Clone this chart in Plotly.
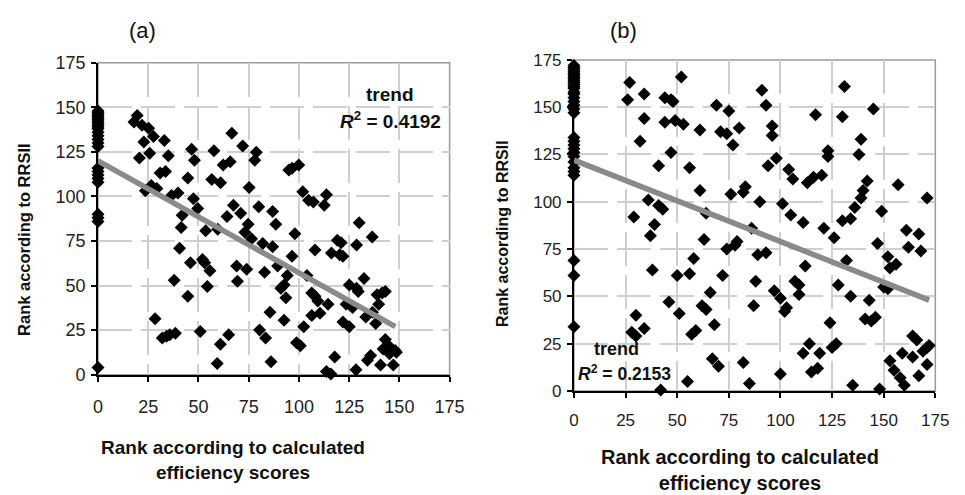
import plotly.graph_objects as go

# ---------------- Panel (a) data ----------------
a_col_y = [148, 147, 146, 145, 144, 143, 142, 141, 140, 139, 138, 136, 134, 132, 130, 128,
           116, 114, 112, 110, 108, 90, 88, 86, 4]
a_x = [19.5, 17.9, 21.9, 25.2, 22.8, 27.6, 33, 20.6, 25.7, 35, 30.9, 33.6, 23.6, 26.5, 29.3, 36.6,
       39.8, 41.9, 41.4, 46.6, 48, 44.7, 47.5, 49.6, 53.6, 57.7, 56.6, 61, 62.3, 65.8, 66.6, 64.2,
       67.4, 59.6, 72, 78.8, 78, 75.2, 71, 74.7, 73.1, 76.4, 80, 82, 86.9, 88.5, 86.9, 69, 69.4, 74,
       82.9, 85.6, 80.4, 83.4, 86.1, 95, 96.6, 99.9, 101.9, 104.8, 107.2, 112.6, 113.7, 98, 96.6,
       94.2, 92.6, 91, 89.4, 93.5, 92.6, 104, 98.8, 100.7, 102.4, 108, 106.4, 108, 109.4, 110.5,
       106.4, 114.5, 116.2, 119.1, 121, 120.3, 121.9, 130, 128.7, 136.5, 125.1, 128.7, 129.5, 132.4,
       123.5, 126.7, 121.9, 125.1, 133.3, 136.6, 138.9, 141.4, 143, 139.7, 138.2, 143, 144.4, 146,
       147.9, 141.9, 145.1, 148.5, 147, 140.6, 134.1, 135.7, 128.4, 117.8, 113.7, 115.9,
       28.4, 32, 34.1, 35.7, 38.5, 37.9, 40.6, 44.7, 46, 50.9, 52, 53.1, 54.4, 55.7, 59.3, 60.9, 65]
a_y = [145.4, 141.8, 140, 138.2, 130.6, 133.7, 131.4, 121.5, 124.2, 122.9, 113.1, 114, 103.2, 106.2,
       104.4, 100.5, 101.9, 89.4, 82.6, 126.5, 120.3, 110.4, 98.7, 93.3, 80.8, 125.6, 109.5, 107.7,
       117.6, 119.4, 135.5, 88.8, 95.1, 81.6, 128.3, 124.8, 120.3, 105, 90.6, 84.4, 79.9, 76.3, 94.2,
       73.6, 91.5, 84.4, 71.8, 61, 52.4, 59.2, 57.4, 35, 25.1, 20.6, 7.2, 114.9, 115.8, 117.6, 102.7,
       97.8, 96.9, 95.1, 100.9, 79, 66.4, 55.6, 50.3, 48.5, 61, 43.1, 30.5, 55.6, 17.9, 16.2, 26.9,
       70, 45.8, 44, 41.3, 34.5, 33.2, 39.5, 68.2, 75.4, 74, 67.3, 66.4, 85.3, 72.7, 77.2, 50.3, 48.5,
       46.7, 53.9, 39.5, 37.7, 29.6, 26.9, 32.3, 35, 44.9, 45.8, 46.7, 39.5, 28.7, 19.7, 16.5, 14.4,
       13.5, 14.4, 11.7, 12.6, 5.4, 5.4, 8.1, 10.8, 2.7, 9.9, 1.8, 0.4,
       31.4, 20.6, 21.5, 22.4, 23.3, 53, 70.9, 44, 62.8, 24.2, 64.6, 62.8, 49.4, 58.3, 6.3, 17, 22.4]
a_trend_x = [0, 148]
a_trend_y = [120, 27]
a_r2 = "0.4192"

# ---------------- Panel (b) data ----------------
b_col_y = [172, 171, 170, 169, 168, 167, 166, 165, 164, 163, 162, 161, 160, 158, 157, 155, 153, 151,
           149, 147, 134, 132, 130, 128, 126, 124, 121, 118, 116, 114, 69, 61, 34]
b_pts = [(27, 163), (26, 154), (34, 157), (34, 144), (32, 132), (52, 166), (44, 155), (47, 154),
         (48, 153), (44, 142), (49, 143), (53, 141), (47, 126), (56, 118), (41, 119), (36, 101),
         (41, 98), (43, 96), (29, 92), (39, 88), (37, 82), (38, 64), (61, 106), (61, 138), (64, 94),
         (63, 80), (58, 70), (56, 62), (50, 61), (46, 47), (51, 41), (30, 40), (28, 31), (30, 29),
         (34, 33), (57, 30), (59, 32), (62, 45), (64, 43), (66, 52), (68, 35), (67, 17), (70, 13),
         (55, 5), (42, 0.5), (69, 151), (71, 137), (74, 136), (75, 148), (77, 130), (80, 139),
         (76, 104), (74, 75), (72, 61), (78, 77), (79, 79), (83, 108), (82, 105), (86, 86), (82, 15),
         (85, 4), (87, 45), (88, 58), (89, 72), (93, 73), (90, 100), (91, 159), (93, 151), (94, 119),
         (98, 123), (96, 140), (96, 135), (97, 53), (100, 49), (102, 42), (103, 44), (100, 9),
         (101, 99), (104, 117), (106, 112), (105, 93), (107, 58), (109, 51), (109, 56), (111, 89),
         (112, 66), (113, 110), (116, 113), (120, 114), (117, 146), (121, 86), (111, 20), (114, 25),
         (115, 10), (118, 12), (119, 20), (123, 127), (123, 124), (126, 81), (128, 56), (124, 36),
         (125, 23), (127, 25), (130, 145), (131, 161), (130, 90), (132, 69), (134, 91), (134, 50),
         (135, 3), (136, 97), (138, 125), (139, 133), (139, 102), (140, 106), (142, 111), (141, 38),
         (143, 48), (145, 149), (144, 37), (146, 39), (147, 78), (149, 95), (148, 1), (150, 55),
         (152, 54), (152, 71), (153, 65), (156, 67), (153, 16), (155, 11), (158, 7), (160, 3),
         (157, 109), (159, 20), (161, 85), (162, 76), (164, 18), (164, 29), (166, 27), (167, 83),
         (168, 74), (167, 8), (169, 21), (171, 23), (172, 24), (171, 14), (171, 102)]
b_x = [p[0] for p in b_pts]
b_y = [p[1] for p in b_pts]
b_trend_x = [0, 172]
b_trend_y = [122, 48]
b_r2 = "0.2153"

tick_vals = [0, 25, 50, 75, 100, 125, 150, 175]
y_title = "Rank according to RRSII"
x_title = "Rank according to calculated<br>efficiency scores"

FONT = "Liberation Sans, Arial, sans-serif"
W, H = 965, 495

fig = go.Figure()

marker = dict(symbol="diamond", size=10, color="black", line=dict(width=0))

for xa, ya, tx, ty, cx, cy, px, py in [
    ("x", "y", a_trend_x, a_trend_y, [0] * len(a_col_y), a_col_y, a_x, a_y),
    ("x2", "y2", b_trend_x, b_trend_y, [0] * len(b_col_y), b_col_y, b_x, b_y),
]:
    fig.add_trace(go.Scatter(x=cx + px, y=cy + py, mode="markers", marker=marker,
                             xaxis=xa, yaxis=ya, cliponaxis=False, showlegend=False))
    fig.add_trace(go.Scatter(x=tx, y=ty, mode="lines", line=dict(color="#8a8a8a", width=5.5),
                             xaxis=xa, yaxis=ya, showlegend=False))

def axis(domain, anchor, size, standoff):
    return dict(domain=domain, anchor=anchor, range=[0, 175], tickvals=tick_vals,
                showgrid=True, gridcolor="#cfcfcf", gridwidth=1.5, griddash="34px,9px",
                showline=True, linecolor="black", linewidth=2, zeroline=False,
                ticks="outside", ticklen=5, tickcolor="black", tickwidth=1.5,
                ticklabelstandoff=standoff,
                tickfont=dict(family=FONT, size=size, color="#222"), fixedrange=True)

fig.update_layout(
    width=W, height=H, margin=dict(l=0, r=0, t=0, b=0),
    paper_bgcolor="white", plot_bgcolor="white",
    xaxis=axis([95 / W, 454 / W], "y", 18, 10),
    yaxis=axis([1 - 380 / H, 1 - 55 / H], "x", 18, 2),
    xaxis2=axis([581 / W, 950 / W], "y2", 17, 8),
    yaxis2=axis([1 - 397 / H, 1 - 52 / H], "x2", 17, 2),
)

for xr, yr in [("x", "y"), ("x2", "y2")]:
    fig.add_shape(type="rect", xref=f"{xr} domain", yref=f"{yr} domain", x0=0, x1=1, y0=0, y1=1,
                  line=dict(color="#9a9a9a", width=1.5), layer="below")

def ann(x, y, text, size, bold=False, angle=0):
    if bold:
        text = f"<b>{text}</b>"
    fig.add_annotation(x=x / W, y=1 - y / H, xref="paper", yref="paper", text=text,
                       showarrow=False, textangle=angle, xanchor="center", yanchor="middle",
                       align="center", font=dict(family=FONT, size=size, color="#111"))

ann(140, 21, "(a)", 22)
ann(632, 21, "(b)", 22)
ann(20, 239, y_title, 16.5, bold=True, angle=-90)
ann(508, 233, y_title, 16, bold=True, angle=-90)
ann(233, 469, x_title, 19, bold=True)
ann(751, 479, x_title, 20, bold=True)
ann(393, 88, "trend", 19, bold=True)
ann(394, 115, f"<i>R</i><sup>2</sup> = {a_r2}", 19, bold=True)
ann(624, 353, "trend", 18, bold=True)
ann(633, 378, f"<i>R</i><sup>2</sup> = {b_r2}", 17.5, bold=True)

fig.write_html("out.html")
